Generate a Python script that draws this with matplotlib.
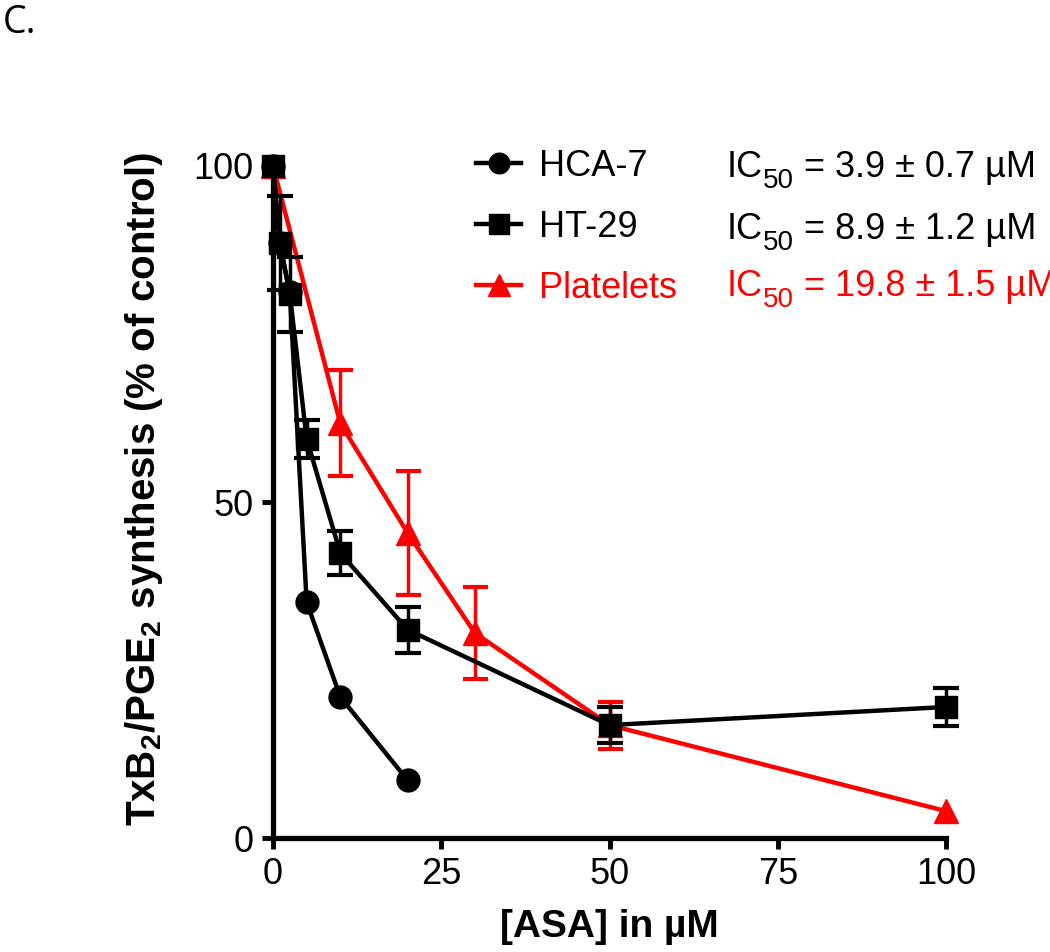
import numpy as np
import matplotlib
matplotlib.use("Agg")
import matplotlib.pyplot as plt

plt.rcParams['font.family'] = ['Liberation Sans', 'DejaVu Sans']
plt.rcParams['mathtext.fontset'] = 'custom'
plt.rcParams['mathtext.rm'] = 'Liberation Sans'
plt.rcParams['mathtext.it'] = 'Liberation Sans'
plt.rcParams['mathtext.bf'] = 'Liberation Sans:bold'

# Data
hca_x = [0, 1, 2.5, 5, 10, 20]
hca_y = [100, 88.5, 81.2, 35.1, 21.0, 8.6]

ht_x = [0, 1, 2.5, 5, 10, 20, 50, 100]
ht_y = [100, 88.6, 80.9, 59.4, 42.4, 31.0, 16.8, 19.5]
ht_err = [0, 7.0, 5.6, 2.8, 3.3, 3.4, 2.7, 2.8]

pl_x = [0, 10, 20, 30, 50, 100]
pl_y = [100, 61.7, 45.4, 30.5, 16.8, 4.0]
pl_err = [0, 7.9, 9.2, 6.8, 3.5, 0]

labels = ['HCA-7', 'HT-29', 'Platelets']
ic50_vals = ['3.9 ± 0.7 µM', '8.9 ± 1.2 µM', '19.8 ± 1.5 µM']
x_ticks = [0, 25, 50, 75, 100]
y_ticks = [0, 50, 100]

RED = '#ff0000'
BLACK = '#000000'

W, H = 1050, 952
fig = plt.figure(figsize=(W/100, H/100), dpi=100)
ax = fig.add_axes([273/W, 1-838/H, (946-273)/W, (838-166)/H])

lw = 3.2

def err_subset(x, y, e):
    idx = [i for i, v in enumerate(e) if v > 0]
    return [x[i] for i in idx], [y[i] for i in idx], [e[i] for i in idx]

# Platelets
ex, ey, ee = err_subset(pl_x, pl_y, pl_err)
ax.errorbar(ex, ey, yerr=ee, fmt='none', ecolor=RED, elinewidth=2.5,
            capsize=9, capthick=3, clip_on=False, zorder=2)
hp, = ax.plot(pl_x, pl_y, color=RED, lw=lw, marker='^', ms=17, mec=RED, mfc=RED,
              clip_on=False, zorder=3, label=labels[2])

# HT-29
ex, ey, ee = err_subset(ht_x, ht_y, ht_err)
ax.errorbar(ex, ey, yerr=ee, fmt='none', ecolor=BLACK, elinewidth=2.5,
            capsize=9.5, capthick=3, clip_on=False, zorder=4)
hh, = ax.plot(ht_x, ht_y, color=BLACK, lw=lw, marker='s', ms=16.5, mec=BLACK, mfc=BLACK,
              clip_on=False, zorder=5, label=labels[1])

# HCA-7
hc, = ax.plot(hca_x, hca_y, color=BLACK, lw=lw, marker='o', ms=16.5, mec=BLACK, mfc=BLACK,
              clip_on=False, zorder=6, label=labels[0])

ax.set_xlim(0, 100)
ax.set_ylim(0, 100)
ax.set_xticks(x_ticks)
ax.set_yticks(y_ticks)
ax.tick_params(axis='both', direction='out', length=8, width=3.5, labelsize=26, pad=6)
for s in ['top', 'right']:
    ax.spines[s].set_visible(False)
for s in ['left', 'bottom']:
    ax.spines[s].set_linewidth(3.8)

ax.set_xlabel('[ASA] in µM', fontsize=28, fontweight='bold', labelpad=12)
ax.set_ylabel('TxB$_\\mathbf{2}$/PGE$_\\mathbf{2}$ synthesis (% of control)',
              fontsize=29, fontweight='bold')
ax.yaxis.set_label_coords(-0.16, 0.52)

leg = ax.legend(handles=[hc, hh, hp], loc='upper left',
                bbox_to_anchor=(476/W, 1-149/H), bbox_transform=fig.transFigure,
                frameon=False, fontsize=26, handlelength=1.25, handletextpad=0.5,
                labelspacing=0.72, markerscale=0.9, borderaxespad=0, borderpad=0)
for t, c in zip(leg.get_texts(), [BLACK, BLACK, RED]):
    t.set_color(c)

# IC50 texts with large, low subscript built from pieces
renderer = fig.canvas.get_renderer()
ic_base = [177, 239, 296]
for val, yb, c in zip(ic50_vals, ic_base, [BLACK, BLACK, RED]):
    xp = 727
    pieces = [('IC', 26, 0), ('50', 20, 11), (' = ' + val, 26, 0)]
    for txt, fs, dy in pieces:
        t = fig.text(xp/W, 1-(yb+dy)/H, txt, fontsize=fs, color=c,
                     va='baseline', ha='left')
        bb = t.get_window_extent(renderer)
        xp = bb.x1

fig.text(3/W, 1-4/H, 'C.', fontsize=27, family=['Open Sans', 'DejaVu Sans'],
         va='top', ha='left')

fig.savefig('out.png', dpi=100)
